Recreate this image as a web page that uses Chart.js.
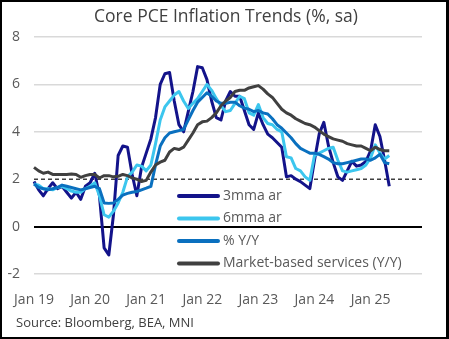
<!DOCTYPE html>
<html>
<head>
<meta charset="utf-8">
<script src="https://cdn.jsdelivr.net/npm/chart.js@4.4.1/dist/chart.umd.min.js"></script>
<style>
  html, body { margin: 0; padding: 0; background: #fff; }
  #wrap { position: absolute; left: 0; top: 0; width: 449px; height: 339px; box-sizing: border-box; border: 2px solid #000; border-right-width: 3px; background: #fff; }
</style>
</head>
<body>
<div id="wrap"><canvas id="chart"></canvas></div>
<script>
// monthly, Jan 2019 .. May 2025 (axis runs to Dec 2025)
const years = ["19", "20", "21", "22", "23", "24", "25"];
const months = ["Jan", "Feb", "Mar", "Apr", "May", "Jun", "Jul", "Aug", "Sep", "Oct", "Nov", "Dec"];

const threeMmaAr = [
    1.9, 1.55, 1.3, 1.6, 1.85, 1.6, 1.7, 1.45, 1.2, 1.45, 1.15, 1.7,
    1.85, 2.25, 1.3, -0.9, -1.2, 0.5, 3.0, 3.4, 3.35, 2.2, 1.3, 2.5,
    3.1, 3.7, 4.6, 6.0, 6.45, 6.5, 5.3, 4.3, 4.0, 4.85, 5.7, 6.75,
    6.7, 6.2, 5.3, 4.6, 4.5, 5.3, 5.7, 5.5, 5.5, 4.9, 4.3, 4.1,
    4.8, 4.3, 3.9, 3.75, 3.55, 3.35, 2.1, 2.15, 2.0, 1.9, 1.75, 1.6,
    2.8, 3.9, 4.4, 3.4, 2.7, 2.1, 1.95, 2.35, 2.75, 2.55, 2.6, 2.75,
    3.2, 4.3, 3.8, 2.8, 1.7
];
const sixMmaAr = [
    1.8, 1.75, 1.6, 1.6, 1.55, 1.65, 1.7, 1.6, 1.5, 1.45, 1.45, 1.6,
    1.7, 1.85, 1.3, 0.5, 0.4, 0.65, 1.0, 1.45, 2.1, 2.3, 2.6, 2.55,
    2.35, 2.6, 3.5, 4.5, 5.05, 5.3, 5.55, 5.7, 5.3, 4.98, 5.2, 5.4,
    5.7, 6.0, 5.75, 5.4, 5.1, 4.85, 4.9, 5.2, 5.5, 5.4, 4.8, 4.7,
    5.15, 4.6, 4.35, 4.3, 4.1, 4.0, 2.95, 2.9, 2.45, 2.35, 2.1, 1.95,
    3.0, 3.1, 3.2, 3.3, 3.35, 2.8, 2.35, 2.3, 2.35, 2.4, 2.45, 2.6,
    2.9, 3.45, 3.1, 2.85, 3.0
];
const pctYoY = [
    1.8, 1.65, 1.6, 1.55, 1.6, 1.65, 1.75, 1.7, 1.65, 1.6, 1.55, 1.6,
    1.65, 1.7, 1.6, 1.0, 0.98, 1.0, 1.15, 1.33, 1.4, 1.45, 1.48, 1.55,
    1.62, 1.7, 2.6, 3.4, 3.75, 3.95, 4.0, 4.05, 4.1, 4.5, 4.9, 5.25,
    5.45, 5.65, 5.5, 5.3, 5.2, 5.2, 5.25, 5.25, 5.1, 5.0, 4.95, 4.85,
    4.9, 4.8, 4.75, 4.55, 4.3, 4.15, 3.95, 3.75, 3.5, 3.3, 3.2, 3.1,
    3.1, 3.05, 2.95, 2.85, 2.7, 2.65, 2.65, 2.7, 2.75, 2.8, 2.85, 2.85,
    2.8, 2.9, 3.05, 2.7, 2.65
];
const marketBased = [
    2.5, 2.35, 2.25, 2.3, 2.2, 2.2, 2.2, 2.2, 2.22, 2.2, 2.08, 2.15,
    2.2, 2.2, 2.05, 2.15, 2.15, 2.1, 2.12, 2.2, 2.15, 2.05, 2.0, 1.9,
    1.95, 2.3, 2.6, 2.72, 2.8, 3.15, 3.3, 3.25, 3.35, 3.65, 3.95, 4.3,
    4.42, 4.45, 4.6, 4.8, 5.1, 5.3, 5.45, 5.7, 5.75, 5.75, 5.85, 5.9,
    5.95, 5.8, 5.6, 5.45, 5.2, 4.95, 4.8, 4.7, 4.55, 4.45, 4.35, 4.3,
    4.2, 4.05, 3.9, 3.8, 3.7, 3.65, 3.6, 3.5, 3.45, 3.4, 3.4, 3.3,
    3.2, 3.35, 3.25, 3.2, 3.2
];
const targetLevel = 2;
const yTicks = [-2, 0, 2, 4, 6, 8];

const seriesNames = ["3mma ar", "6mma ar", "% Y/Y", "Market-based services (Y/Y)"];
const seriesColors = ["#13138a", "#3cc6ee", "#0a70bf", "#404040"];
const titleText = "Core PCE Inflation Trends (%, sa)";
const sourceText = "Source: Bloomberg, BEA, MNI";

const labels = [];
years.forEach(y => months.forEach(m => labels.push(m + " " + y)));

const FONT = '"Open Sans", "Noto Sans", sans-serif';

// title, legend inside plot, source note
const overlay = {
    id: "overlay",
    afterDraw(chart) {
        const ctx = chart.ctx;
        ctx.save();
        ctx.fillStyle = "#404040";
        ctx.font = "17.5px " + FONT;
        ctx.textAlign = "center";
        ctx.textBaseline = "middle";
        ctx.fillText(titleText, 224, 15);

        ctx.textAlign = "left";
        ctx.font = "14px " + FONT;
        seriesNames.forEach((name, i) => {
            const y = 194 + i * 22.5;
            ctx.strokeStyle = seriesColors[i];
            ctx.lineWidth = 4;
            ctx.lineCap = "round";
            ctx.beginPath();
            ctx.moveTo(177, y);
            ctx.lineTo(216, y);
            ctx.stroke();
            ctx.fillStyle = "#595959";
            ctx.fillText(name, 221, y);
        });

        ctx.fillStyle = "#404040";
        ctx.font = "13px " + FONT;
        ctx.fillText(sourceText, 14, 321);
        ctx.restore();
    }
};

const lineSet = (i, data, order) => ({
    label: seriesNames[i],
    data: data,
    borderColor: seriesColors[i],
    borderWidth: 3,
    borderJoinStyle: "round",
    pointRadius: 0,
    tension: 0,
    order: order
});

new Chart(document.getElementById("chart").getContext("2d"), {
    type: "line",
    data: {
        labels: labels,
        datasets: [
            lineSet(3, marketBased, 1),
            lineSet(2, pctYoY, 2),
            lineSet(1, sixMmaAr, 3),
            lineSet(0, threeMmaAr, 4),
            {
                label: "target",
                data: labels.map(() => targetLevel),
                borderColor: "#404040",
                borderWidth: 1.5,
                borderDash: [4, 3],
                pointRadius: 0,
                order: 5
            }
        ]
    },
    options: {
        animation: false,
        responsive: true,
        maintainAspectRatio: false,
        layout: { padding: { top: 35, right: 24, bottom: 25, left: 0 } },
        plugins: { legend: { display: false }, tooltip: { enabled: false }, title: { display: false } },
        scales: {
            x: {
                offset: false,
                grid: { display: false },
                border: { display: false },
                afterFit: s => { s.height = 38; },
                ticks: {
                    autoSkip: false,
                    maxRotation: 0,
                    padding: 10,
                    color: "#595959",
                    font: { size: 14, family: FONT },
                    callback: (v, i) => labels[i].startsWith("Jan") ? labels[i] : ""
                }
            },
            y: {
                min: yTicks[0],
                max: yTicks[yTicks.length - 1],
                afterFit: s => { s.width = 32; },
                afterBuildTicks: s => { s.ticks = yTicks.map(v => ({ value: v })); },
                border: { display: false },
                grid: {
                    drawTicks: false,
                    color: c => c.tick.value === 0 ? "#000" : (c.tick.value === targetLevel ? "rgba(0,0,0,0)" : "#d9d9d9"),
                    lineWidth: c => c.tick.value === 0 ? 2 : 1.5
                },
                ticks: {
                    padding: 14,
                    color: "#595959",
                    font: { size: 14, family: FONT }
                }
            }
        }
    },
    plugins: [overlay]
});
</script>
</body>
</html>
